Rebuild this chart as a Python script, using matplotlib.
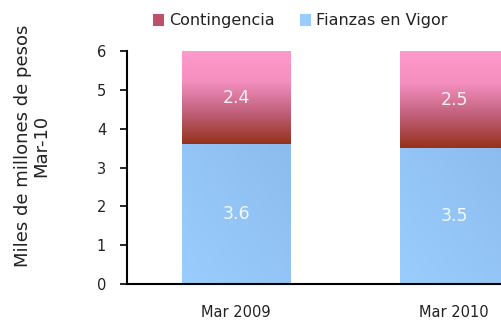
import numpy as np
import matplotlib
matplotlib.use("Agg")
import matplotlib.pyplot as plt
from matplotlib.colors import LinearSegmentedColormap
from matplotlib.patches import Patch

# values in miles de millones de pesos
periods = ["Mar 2009", "Mar 2010"]
fianzas = [3.6, 3.5]
contingencia = [2.4, 2.5]
yticks = [0, 1, 2, 3, 4, 5, 6]

plt.rcParams["font.family"] = "DejaVu Sans"

fig = plt.figure(figsize=(5.01, 3.22), dpi=100)
# the plot area runs past the right edge, so the second bar is cut off
ax = fig.add_axes([127 / 501, 1 - 284 / 322, 436 / 501, 233 / 322])

x = np.arange(len(periods))
width = 0.5

pink_red = LinearSegmentedColormap.from_list("pr", ["#96321a", "#c0607a", "#f48fc0", "#ff9acc"])
blues = LinearSegmentedColormap.from_list("bl", ["#8cbcee", "#9acdfd"])

base = ax.bar(x, fianzas, width, color="none", edgecolor="none")
top = ax.bar(x, contingencia, width, bottom=fianzas, color="none", edgecolor="none")

vert = np.linspace(0, 1, 256).reshape(-1, 1)
diag = (np.linspace(0, 1, 64)[None, :] * 0.5 + np.linspace(0, 1, 64)[:, None] * 0.5)
for rect in base:
    x0, y0 = rect.get_x(), rect.get_y()
    im = ax.imshow(1 - diag, cmap=blues, aspect="auto", origin="lower",
                   extent=(x0, x0 + rect.get_width(), y0, y0 + rect.get_height()), zorder=2)
    im.set_clip_path(rect)
for rect in top:
    x0, y0 = rect.get_x(), rect.get_y()
    im = ax.imshow(vert, cmap=pink_red, aspect="auto", origin="lower",
                   extent=(x0, x0 + rect.get_width(), y0, y0 + rect.get_height()), zorder=2)
    im.set_clip_path(rect)

for i in range(len(periods)):
    ax.text(x[i], fianzas[i] / 2, f"{fianzas[i]:.1f}", ha="center", va="center",
            color="white", alpha=0.9, fontsize=12.5, zorder=3)
    ax.text(x[i], fianzas[i] + contingencia[i] / 2, f"{contingencia[i]:.1f}", ha="center",
            va="center", color="white", alpha=0.9, fontsize=12.5, zorder=3)

ax.set_xlim(-0.5, 1.5)
ax.set_ylim(0, 6)
ax.set_yticks(yticks)
ax.set_xticks(x)
ax.set_xticklabels(periods, fontsize=10.5, color="#222222")
ax.tick_params(axis="x", length=0, pad=15)
ax.tick_params(axis="y", length=5, width=1.2, labelsize=10.5, pad=10, direction="out",
               labelcolor="#222222")
for side in ["top", "right"]:
    ax.spines[side].set_visible(False)
for side in ["left", "bottom"]:
    ax.spines[side].set_linewidth(1.5)

fig.text(32 / 501, 1 - 146 / 322, "Miles de millones de pesos\nMar-10", rotation=90,
         ha="center", va="center", fontsize=13, color="#222222", linespacing=1.0)

handles = [Patch(facecolor="#c0506a", label="Contingencia"),
           Patch(facecolor="#99ccff", label="Fianzas en Vigor")]
fig.legend(handles=handles, loc="center", bbox_to_anchor=(300 / 501, 1 - 21 / 322), ncol=2,
           frameon=False, fontsize=11.5, handlelength=0.7, handleheight=0.7,
           handletextpad=0.3, columnspacing=1.6, labelcolor="#222222")

fig.savefig("out.png", dpi=100)
